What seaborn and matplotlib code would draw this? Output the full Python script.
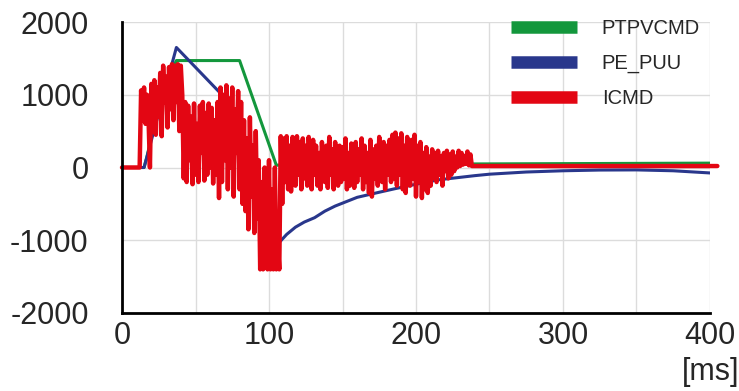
import numpy as np
import matplotlib
matplotlib.use('Agg')
import matplotlib.pyplot as plt
from matplotlib.lines import Line2D
import seaborn as sns

# ---- data ----
green_t = [0, 15, 17, 22, 28, 37, 80, 105, 110, 400]
green_v = [0, 0, 150, 600, 1100, 1470, 1470, 30, 40, 60]

blue_t = [0, 15, 37, 67, 107, 112, 118, 124, 131, 138, 145, 160, 175, 186, 200,
          215, 240, 250, 275, 300, 325, 350, 375, 400]
blue_v = [0, 0, 1650, 1020, -1030, -920, -820, -750, -690, -600, -530, -410, -340,
          -290, -230, -170, -112, -92, -62, -45, -35, -33, -45, -75]

# ICMD samples, 1 ms apart, starting at 13 ms
red_noise_v = [
    1060, 650, 1100, 600, 1000, 700, 0,
    1150, 500, 1200, 450, 1100, 700, 1300, 430, 1400, 900, 1250, 550, 1380, 800,
    1420, 650, 1400, 900, 1420, 500, 1400, 1000,
    -150, 900, -200, 850, 100, 700, -230, 880, -100, 600, -200, 850, 200, 900,
    -180, 750, -100, 880, 0, 820, -220, 650, -100, 900, -420,
    1100, -200, 1000, 100, 1130, -300, 950, 0, 1100, -400, 800, 200, 1050, -300,
    900, -500,
    650, -600, 400, -850, 690, -400, 300, -900, 500, -700,
    100, -1400, -200, -1400, 0, -1200, -1400, 100, -1400, -300, -1400, 0, -1400,
    -1000, -1400,
    430, -500, 400, -200, 430, -300, 300, -330, 420, 0, -250, 430, -100, 350, -300,
    400, -150, 300, -250, 420, 50, -300, 380,
    -100, 300, -250, 200, -300, 350, 0, -200, 300, -280,
    420, -100, 250, -300, 350, -50, -250, 300, -200, 280,
    -150, 400, -300, 200, -250, 330, 0, -280, 350, -200,
    250, -100, 400, -300, 300, -200, 200, -350, 380, -400,
    250, -150, 300, -250, 420, 0, -200, 350, -300, 300,
    -100, 380, -200, 450, -150,
    480, -250, 400, -100, 470, -300, 300, -350, 420, 0,
    -250, 380, -150, 450, -400, 300, -200, 350, -420, 200,
    -300, 280, -350, 150, -250,
    250, -150, 200, -200, 230, -100, 150, -250, 200, -50,
    230, -150, 180, -100, 220, -50, 150, 0, 230, 20,
    200, 40, 160, 50, 220, 30, 180, 20,
]
red_noise_t = list(range(13, 13 + len(red_noise_v)))

red_t = [0, 12] + red_noise_t + [240, 405]
red_v = [0, 0] + red_noise_v + [20, 20]

labels = ['PTPVCMD', 'PE_PUU', 'ICMD']
colors = ['#13973c', '#29378c', '#e30613']

x_ticks = [0, 100, 200, 300, 400]
y_ticks = [-2000, -1000, 0, 1000, 2000]

# ---- style ----
sns.set_style('white')
plt.rcParams['font.family'] = ['Liberation Sans', 'DejaVu Sans']

fig = plt.figure(figsize=(7.39, 3.91), dpi=100)
ax = fig.add_axes([122 / 739, 1 - 313 / 391, (710 - 122) / 739, (313 - 22) / 391])

sns.lineplot(x=green_t, y=green_v, ax=ax, color=colors[0], linewidth=2.2,
             estimator=None, sort=False)
sns.lineplot(x=blue_t, y=blue_v, ax=ax, color=colors[1], linewidth=2.2,
             estimator=None, sort=False)
sns.lineplot(x=red_t, y=red_v, ax=ax, color=colors[2], linewidth=3.2,
             estimator=None, sort=False, clip_on=False)

ax.set_xlim(0, 400)
ax.set_ylim(-2000, 2000)
ax.set_xticks(x_ticks)
ax.set_xticks(range(50, 400, 100), minor=True)
ax.set_yticks(y_ticks)
ax.set_xticklabels([str(v) for v in x_ticks])
ax.set_yticklabels([str(v) for v in y_ticks])
ax.grid(True, which='both', color='#dcdcdc', linewidth=1)
ax.set_axisbelow(True)
ax.tick_params(axis='both', which='both', length=0, labelsize=22)
ax.tick_params(axis='y', pad=24)
ax.tick_params(axis='x', pad=6)
for side in ['top', 'right']:
    ax.spines[side].set_visible(False)
for side in ['left', 'bottom']:
    ax.spines[side].set_color('black')
    ax.spines[side].set_linewidth(2)
ax.set_xlabel('')
ax.set_ylabel('')

handles = [Line2D([0], [0], color=c, linewidth=9, solid_capstyle='butt') for c in colors]
ax.legend(handles, labels, loc='upper left', bbox_to_anchor=(511 / 739, 1 - 19 / 391),
          bbox_transform=fig.transFigure, frameon=False, fontsize=14.5,
          handlelength=3.3, handletextpad=1.2, labelspacing=0.8,
          borderpad=0, borderaxespad=0)

fig.text(1.0, 0.01, '[ms]', ha='right', va='bottom', fontsize=22)

fig.savefig('out.png', dpi=100)
